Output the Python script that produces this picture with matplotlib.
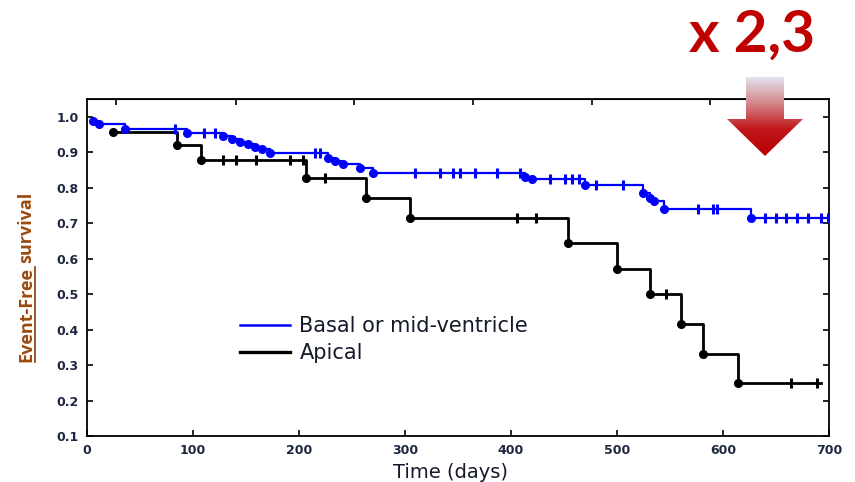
import numpy as np
import matplotlib
matplotlib.use("Agg")
import matplotlib.pyplot as plt
from matplotlib.patches import Polygon
from matplotlib.colors import LinearSegmentedColormap
from matplotlib.lines import Line2D

# Kaplan-Meier curves (time in days, survival after event)
blue_event_t = [6, 12, 36, 95, 129, 137, 145, 152, 159, 165, 173, 228, 234, 242,
                258, 270, 413, 420, 470, 525, 531, 535, 544, 626]
blue_event_s = [0.99, 0.98, 0.966, 0.956, 0.946, 0.938, 0.93, 0.923, 0.916, 0.909,
                0.899, 0.884, 0.875, 0.868, 0.855, 0.842, 0.832, 0.824, 0.808, 0.786,
                0.772, 0.764, 0.741, 0.715]
blue_censor_t = [83, 111, 121, 215, 220, 310, 333, 345, 352, 366, 387, 409, 437, 451,
                 458, 464, 480, 506, 576, 591, 594, 640, 650, 659, 670, 680, 692, 699]
blue_end = 700

black_event_t = [25, 85, 108, 207, 263, 305, 454, 500, 531, 560, 581, 614]
black_event_s = [0.959, 0.921, 0.879, 0.827, 0.771, 0.716, 0.644, 0.572, 0.5,
                 0.417, 0.332, 0.25]
black_censor_t = [129, 141, 160, 192, 204, 225, 406, 424, 546, 664, 689]
black_end = 692

top_ticks = [27.6, 140.4, 252.2, 364.4, 476.4, 588.2]

W, H = 855, 482
fig = plt.figure(figsize=(W / 100, H / 100), dpi=100)
ax = fig.add_axes([86.7 / W, 1 - 436 / H, (829 - 86.7) / W, (436 - 99.3) / H])

tick_color = "#1e2740"


# step curve + event dots + censor ticks
def km_curve(ev_t, ev_s, cens_t, t_end, color, lw, z):
    t = np.array(ev_t + [t_end], dtype=float)
    s = np.array(ev_s + [ev_s[-1]], dtype=float)
    ax.step(t, s, where="post", color=color, lw=lw, zorder=z)
    ax.plot(ev_t, ev_s, "o", color=color, ms=5.5, zorder=z)
    idx = np.searchsorted(ev_t, cens_t, side="right") - 1
    ax.plot(cens_t, np.array(ev_s)[idx], "|", color=color, ms=7, mew=2.2, zorder=z)


km_curve(black_event_t, black_event_s, black_censor_t, black_end, "black", 2.0, 2)
km_curve(blue_event_t, blue_event_s, blue_censor_t, blue_end, "#0000ff", 1.6, 3)

ax.set_xlim(0, 700)
ax.set_ylim(0.1, 1.05)
ax.set_xticks(np.arange(0, 701, 100))
ax.set_yticks(np.arange(0.1, 1.01, 0.1))
ax.set_yticklabels([f"{v:.1f}" for v in np.arange(0.1, 1.01, 0.1)])
ax.tick_params(direction="in", length=4, width=1.2, right=True,
               labelsize=9, labelcolor=tick_color, pad=6)
for lab in ax.get_xticklabels() + ax.get_yticklabels():
    lab.set_fontweight("bold")
for sp in ax.spines.values():
    sp.set_linewidth(1.3)

sec = ax.secondary_xaxis("top")
sec.set_xticks(top_ticks)
sec.set_xticklabels([])
sec.tick_params(direction="in", length=4, width=1.2)

ax.set_xlabel("Time (days)", fontsize=14, color="#151a2a")
ax.xaxis.set_label_coords((450 - 86.7) / 742.3, -0.08)

handles = [Line2D([], [], color="#0000ff", lw=1.8), Line2D([], [], color="black", lw=2.4)]
ax.legend(handles, ["Basal or mid-ventricle", "Apical"], loc="upper left",
          bbox_to_anchor=((240 - 86.7) / 742.3, (436 - 316) / 336.7),
          frameon=False, fontsize=15, handlelength=2.4, handletextpad=0.45,
          labelspacing=0.33, borderpad=0, borderaxespad=0, labelcolor="#151a2a")

# y label: "Event-Free" underlined, then "survival"
brown = "#9a4a10"
t1 = fig.text(26 / W, 1 - 362 / H, "Event-Free", rotation=90, ha="center", va="bottom",
              fontsize=13, fontweight="bold", family="Open Sans", color=brown)
fig.canvas.draw()
bb = t1.get_window_extent().transformed(fig.transFigure.inverted())
fig.text(26 / W, bb.y1 + 4 / H, "survival", rotation=90, ha="center", va="bottom",
         fontsize=13, fontweight="bold", family="Open Sans", color=brown)
fig.add_artist(Line2D([34.5 / W, 34.5 / W], [bb.y0, bb.y1], color=brown, lw=1.3,
                      transform=fig.transFigure))

# "x 2,3" with gradient arrow
fig.text(752 / W, 1 - 35 / H, "x 2,3", ha="center", va="center", fontsize=42,
         fontweight="bold", family="Lato", color="#c00000")

ov = fig.add_axes([0, 0, 1, 1], zorder=5)
ov.set_xlim(0, W)
ov.set_ylim(H, 0)
ov.axis("off")
arrow = Polygon([(746, 77), (784, 77), (784, 119), (803, 119), (765, 156),
                 (727, 119), (746, 119)], closed=True, facecolor="none", edgecolor="none")
ov.add_patch(arrow)
cmap = LinearSegmentedColormap.from_list("arr", ["#e2e4ef", "#d5858a", "#c0161a", "#b80000"])
grad = np.linspace(0, 1, 256).reshape(-1, 1)
im = ov.imshow(grad, cmap=cmap, extent=[727, 803, 156, 77], aspect="auto",
               interpolation="bilinear")
im.set_clip_path(arrow)
ov.set_xlim(0, W)
ov.set_ylim(H, 0)

fig.savefig("out.png", dpi=100)
